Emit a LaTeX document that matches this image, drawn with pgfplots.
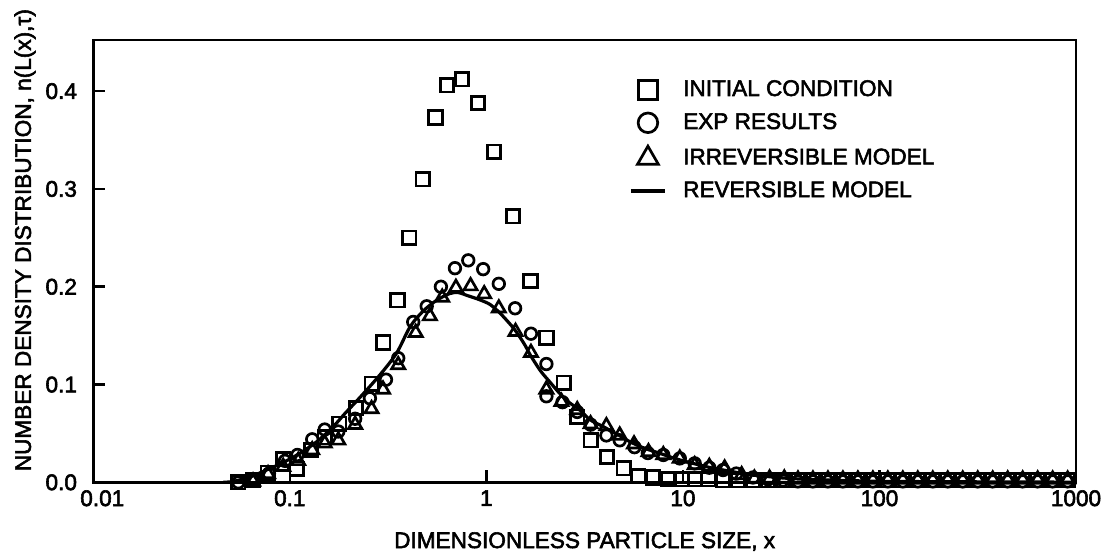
\documentclass[border=0pt]{standalone}
\usepackage{fontspec}
\setmainfont{Liberation Sans}[FakeBold=2.5]
\usepackage{pgfplots}
\pgfplotsset{compat=1.18}
\newcommand{\lf}{\fontsize{11.3}{13.5}\selectfont}
\begin{document}
\lf
\begin{tikzpicture}
\begin{axis}[
  name=ax,
  scale only axis, width=491.4pt, height=221.2pt,
  xmode=log, xmin=0.01, xmax=1000, ymin=0, ymax=0.4523,
  xtick={0.01,0.1,1,10,100,1000},
  xticklabels={\hspace*{9pt}0.01,0.1,1,10,100,1000},
  ytick={0,0.1,0.2,0.3,0.4},
  yticklabels={0.0,0.1,0.2,0.3,0.4},
  xminorticks=false, yminorticks=false,
  tick align=inside, xtick pos=left, ytick pos=left,
  major tick length=6pt,
  axis line style={line width=1.3pt},
  every tick/.style={line width=1.3pt, black},
  tick label style={font=\lf},
  yticklabel style={xshift=-4.2pt},
  label style={font=\lf},
  xlabel={DIMENSIONLESS PARTICLE SIZE, x},
  ylabel={NUMBER DENSITY DISTRIBUTION, n(L(x),τ)},
  xlabel style={at={(axis description cs:0.5,-0.1485)}, anchor=base},
  ylabel style={at={(axis description cs:-0.0635,0.5475)}, anchor=base},
  legend style={draw=none, fill=none, font=\lf, at={(axis description cs:0.545,0.91)}, anchor=north west, inner sep=0pt, row sep=6.8pt, column sep=8.3pt, nodes={inner sep=0pt}},
  legend cell align=left,
  mark options={solid, line width=1.35pt},
]
\addplot[only marks, mark=square, mark size=3.35pt, legend image post style={mark size=4.8pt}] table {
x y
0.0547 0.000
0.065 0.002
0.0773 0.010
0.0925 0.024
0.1083 0.014
0.128 0.033
0.1505 0.046
0.1785 0.060
0.217 0.076
0.2605 0.101
0.299 0.143
0.353 0.186
0.405 0.250
0.474 0.310
0.551 0.373
0.631 0.406
0.753 0.412
0.908 0.388
1.095 0.338
1.368 0.272
1.677 0.206
2.022 0.148
2.475 0.102
2.90 0.067
3.39 0.043
4.11 0.026
5.0 0.0143
5.92 0.0064
7.04 0.005
8.41 0.0035
9.91 0.003
11.48 0.003
13.52 0.003
16.0 0.002
19.07 0.002
22.73 0.002
27.09 0.002
32.29 0.002
38.49 0.002
45.87 0.002
54.68 0.002
65.17 0.002
77.67 0.002
92.6 0.002
110.3 0.002
131.5 0.002
156.7 0.002
186.8 0.002
222.6 0.002
265.3 0.002
316.3 0.002
377 0.002
449.3 0.002
535.5 0.002
638.3 0.002
760.8 0.002
906.8 0.002
};
\addlegendentry{INITIAL CONDITION}
\addplot[only marks, mark=o, mark size=2.9pt, legend image post style={mark size=4.9pt}] table {
x y
0.0547 0.000
0.065 0.002
0.0783 0.009
0.0945 0.022
0.1093 0.028
0.130 0.044
0.1505 0.054
0.1765 0.052
0.215 0.065
0.2555 0.086
0.3085 0.105
0.356 0.127
0.4245 0.164
0.497 0.180
0.587 0.200
0.692 0.219
0.809 0.227
0.963 0.218
1.157 0.203
1.40 0.178
1.686 0.152
2.02 0.121
2.02 0.088
2.44 0.082
2.90 0.072
3.39 0.059
4.08 0.048
4.77 0.043
5.67 0.036
6.63 0.030
7.95 0.028
9.64 0.0245
11.48 0.0194
13.62 0.015
16.0 0.0126
18.7 0.009
22.73 0.005
27.09 0.003
32.29 0.002
38.49 0.001
45.87 0.001
54.68 0.001
65.17 0.001
77.67 0.001
92.6 0.001
110.3 0.001
131.5 0.001
156.7 0.001
186.8 0.001
222.6 0.001
265.3 0.001
316.3 0.001
377 0.001
449.3 0.001
535.5 0.001
638.3 0.001
760.8 0.001
906.8 0.001
};
\addlegendentry{EXP RESULTS}
\addplot[only marks, mark=triangle, mark size=3.8pt, legend image post style={mark size=6pt}] table {
x y
0.065 0.001
0.0775 0.0085
0.0925 0.016
0.1103 0.022
0.130 0.033
0.1505 0.040
0.1765 0.043
0.215 0.059
0.2605 0.075
0.298 0.095
0.356 0.120
0.437 0.153
0.516 0.170
0.596 0.189
0.700 0.199
0.831 0.2007
0.975 0.1925
1.157 0.178
1.407 0.154
1.686 0.1325
2.02 0.095
2.41 0.0824
2.90 0.074
3.39 0.0596
4.08 0.0576
4.77 0.048
5.64 0.039
6.68 0.031
7.95 0.028
9.64 0.0245
11.48 0.0177
13.62 0.016
16.3 0.0143
19.9 0.0075
23.1 0.004
27.6 0.004
32.8 0.004
38.49 0.003
45.87 0.003
54.68 0.003
65.17 0.003
77.67 0.003
92.6 0.003
110.3 0.003
131.5 0.003
156.7 0.003
186.8 0.003
222.6 0.003
265.3 0.003
316.3 0.003
377 0.003
449.3 0.003
535.5 0.003
638.3 0.003
760.8 0.003
906.8 0.003
};
\addlegendentry{IRREVERSIBLE MODEL}
\addplot[line width=1.6pt, smooth, no marks] table {
x y
0.0458 0
0.0516 0.001
0.063 0.0057
0.076 0.0126
0.0918 0.020
0.1124 0.0297
0.138 0.042
0.1663 0.057
0.190 0.070
0.229 0.0875
0.2877 0.110
0.349 0.132
0.409 0.159
0.476 0.175
0.557 0.186
0.65 0.193
0.72 0.194
0.80 0.191
0.916 0.187
1.042 0.182
1.16 0.174
1.252 0.167
1.37 0.158
1.464 0.150
1.575 0.140
1.675 0.130
1.886 0.114
2.096 0.103
2.36 0.091
2.625 0.082
2.985 0.074
3.37 0.064
3.93 0.057
4.645 0.049
5.38 0.0415
6.35 0.035
7.63 0.0297
9.24 0.024
11.27 0.0194
13.85 0.015
18.05 0.0108
21.4 0.008
26.8 0.006
32.2 0.0045
43 0.003
64.7 0.002
108.4 0.001
328 0.0005
1000 0.0002
};
\addlegendentry{REVERSIBLE MODEL}
\end{axis}
\pgfresetboundingbox
\path[use as bounding box] ([xshift=-46.65pt,yshift=-37.35pt]ax.south west) rectangle ([xshift=14pt,yshift=20pt]ax.north east);
\end{tikzpicture}
\end{document}
